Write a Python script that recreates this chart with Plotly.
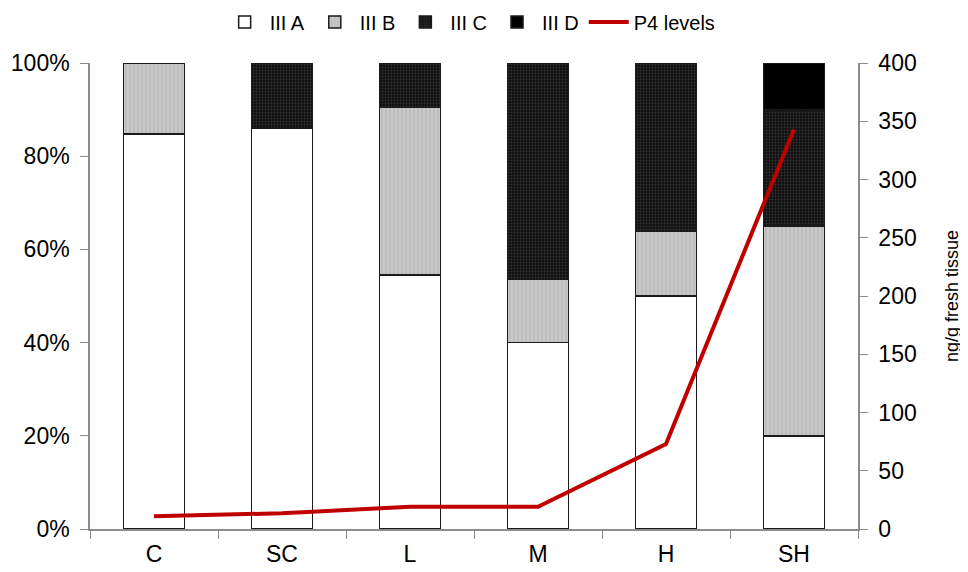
import plotly.graph_objects as go

categories = ["C", "SC", "L", "M", "H", "SH"]
iii_a = [84.8, 86.0, 54.5, 40.0, 50.0, 20.0]
iii_b = [15.2, 0.0, 36.0, 13.5, 14.0, 45.0]
iii_c = [0.0, 14.0, 9.5, 46.5, 36.0, 25.0]
iii_d = [0.0, 0.0, 0.0, 0.0, 0.0, 10.0]
p4_levels = [11, 13.5, 19, 19, 73, 343]
pct_ticks = [0, 20, 40, 60, 80, 100]
pct_labels = ["0%", "20%", "40%", "60%", "80%", "100%"]
right_ticks = [0, 50, 100, 150, 200, 250, 300, 350, 400]

FONT = "Liberation Sans, Arial, sans-serif"
outline = dict(color="#1a1a1a", width=1.5)

fig = go.Figure()
fig.add_trace(go.Bar(x=categories, y=iii_a, name="III A", width=0.48,
                     marker=dict(color="white", line=outline)))
fig.add_trace(go.Bar(x=categories, y=iii_b, name="III B", width=0.48,
                     marker=dict(color="#bdbdbd", line=outline,
                                 pattern=dict(shape="|", fillmode="overlay", bgcolor="#bdbdbd",
                                              fgcolor="#e0e0e0", size=4, solidity=0.35))))
fig.add_trace(go.Bar(x=categories, y=iii_c, name="III C", width=0.48,
                     marker=dict(color="#111111", line=outline,
                                 pattern=dict(shape=".", fillmode="overlay", bgcolor="#111111",
                                              fgcolor="#555555", size=3, solidity=0.3))))
fig.add_trace(go.Bar(x=categories, y=iii_d, name="III D", width=0.48,
                     marker=dict(color="black", line=outline)))
fig.add_trace(go.Scatter(x=categories, y=p4_levels, name="P4 levels", yaxis="y2",
                         mode="lines", line=dict(color="#C00000", width=4)))

axis_common = dict(showline=True, linecolor="#8c8c8c", linewidth=1.5, ticks="outside",
                   tickcolor="#8c8c8c", ticklen=8, showgrid=False, zeroline=False,
                   automargin=False,
                   tickfont=dict(family=FONT, size=23, color="black"))

fig.update_layout(
    barmode="stack",
    width=968, height=572,
    margin=dict(l=82, r=118, t=55, b=51, autoexpand=False),
    plot_bgcolor="white", paper_bgcolor="white",
    font=dict(family=FONT, color="black"),
    legend=dict(orientation="h", x=0.495, xanchor="center", y=1.088, yanchor="middle",
                font=dict(family=FONT, size=20, color="black"), traceorder="normal",
                itemwidth=40, tracegroupgap=0, bgcolor="rgba(0,0,0,0)"),
    xaxis=dict(**axis_common, tickson="boundaries", ticklabelstandoff=4),
    yaxis=dict(**axis_common, range=[0, 100], tickvals=pct_ticks, ticktext=pct_labels,
               ticklabelstandoff=6),
    yaxis2=dict(**axis_common, overlaying="y", side="right", range=[0, 400],
                tickvals=right_ticks, ticklabelstandoff=6,
                title=dict(text="ng/g fresh tissue",
                           font=dict(family=FONT, size=18, color="black"), standoff=30)),
)

fig.write_html("out.html")
